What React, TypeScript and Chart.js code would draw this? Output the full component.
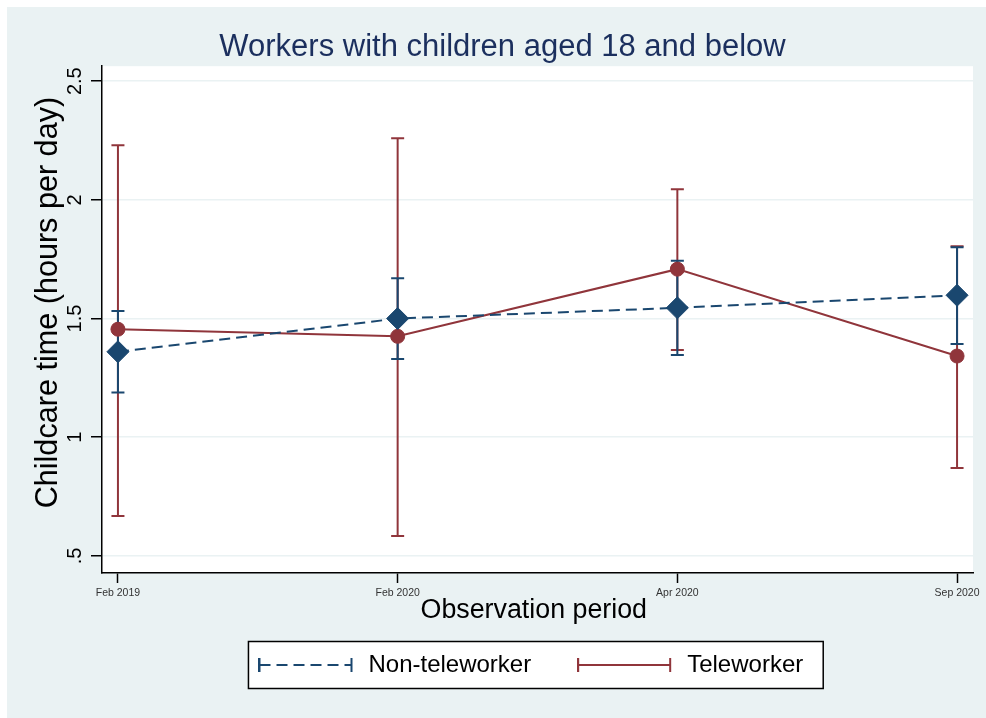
import React, { useEffect, useRef } from "react";
import { Chart, registerables } from "chart.js";

Chart.register(...registerables);

const periods = ["Feb 2019", "Feb 2020", "Apr 2020", "Sep 2020"];
const yTickValues = [0.5, 1, 1.5, 2, 2.5];
const yTickLabels = [".5", "1", "1.5", "2", "2.5"];

const nonTeleMean = [1.36, 1.5, 1.545, 1.598];
const nonTeleLow = [1.188, 1.33, 1.346, 1.393];
const nonTeleHigh = [1.532, 1.67, 1.743, 1.8];

const teleMean = [1.455, 1.425, 1.708, 1.342];
const teleLow = [0.668, 0.584, 1.367, 0.87];
const teleHigh = [2.23, 2.259, 2.045, 1.805];

const NAVY = "#1A476F";
const MAROON = "#90353B";
const BG = "#EAF2F3";
const TITLE = "#1b2f5e";
const FONT = '"Liberation Sans", Arial, sans-serif';
const LEGEND_TRAIL = "  ";

function meanData(vals: number[]) {
  return vals.map((v, i) => ({ x: i, y: v }));
}

function errorData(lo: number[], hi: number[]) {
  const out: { x: number; y: number | null }[] = [];
  lo.forEach((l, i) => {
    out.push({ x: i, y: l }, { x: i, y: hi[i] }, { x: i, y: null });
  });
  return out;
}

function makeSymbol(color: string, dashed: boolean) {
  const c = document.createElement("canvas");
  c.width = 98;
  c.height = 16;
  const g = c.getContext("2d")!;
  g.strokeStyle = color;
  g.lineWidth = 2;
  g.beginPath();
  g.moveTo(1, 1);
  g.lineTo(1, 15);
  g.moveTo(93, 1);
  g.lineTo(93, 15);
  g.stroke();
  g.setLineDash(dashed ? [11, 6] : []);
  g.beginPath();
  g.moveTo(1, 8);
  g.lineTo(93, 8);
  g.stroke();
  return c;
}

const backgroundPlugin = {
  id: "bgAndLegendBox",
  beforeDraw(chart: any) {
    const ctx = chart.ctx;
    const { left, right, top, bottom } = chart.chartArea;
    ctx.save();
    ctx.fillStyle = "#fff";
    ctx.fillRect(left, top, right - left, bottom - top);
    const hb = chart.legend && chart.legend.legendHitBoxes;
    if (hb && hb.length) {
      ctx.font = `24px ${FONT}`;
      const trail = ctx.measureText(LEGEND_TRAIL).width;
      const l = hb[0].left - 10;
      const last = hb[hb.length - 1];
      const r = last.left + last.width - trail + 20;
      const cy = hb[0].top + hb[0].height / 2;
      ctx.fillRect(l, cy - 23.5, r - l, 47);
      ctx.strokeStyle = "#000";
      ctx.lineWidth = 1.5;
      ctx.strokeRect(l, cy - 23.5, r - l, 47);
    }
    ctx.restore();
  },
};

export default function App() {
  const ref = useRef<HTMLCanvasElement | null>(null);

  useEffect(() => {
    if (!ref.current) return;
    const navySym = makeSymbol(NAVY, true);
    const redSym = makeSymbol(MAROON, false);
    const chart = new Chart(ref.current, {
      type: "line",
      data: {
        datasets: [
          {
            label: "Non-teleworker",
            data: meanData(nonTeleMean),
            borderColor: NAVY,
            backgroundColor: NAVY,
            borderWidth: 2,
            borderDash: [11, 6],
            pointStyle: "rectRot",
            pointRadius: 11,
            pointBorderWidth: 1,
            pointBorderColor: NAVY,
            pointBackgroundColor: NAVY,
            order: 0,
          },
          {
            label: "Teleworker",
            data: meanData(teleMean),
            borderColor: MAROON,
            backgroundColor: MAROON,
            borderWidth: 2,
            pointStyle: "circle",
            pointRadius: 7,
            pointBorderWidth: 1,
            pointBorderColor: MAROON,
            pointBackgroundColor: MAROON,
            order: 1,
          },
          {
            label: "ci-non",
            data: errorData(nonTeleLow, nonTeleHigh),
            borderColor: NAVY,
            borderWidth: 2,
            pointStyle: "line",
            pointRadius: 6.5,
            pointBorderWidth: 2,
            pointBorderColor: NAVY,
            order: 2,
          },
          {
            label: "ci-tele",
            data: errorData(teleLow, teleHigh),
            borderColor: MAROON,
            borderWidth: 2,
            pointStyle: "line",
            pointRadius: 6.5,
            pointBorderWidth: 2,
            pointBorderColor: MAROON,
            order: 3,
          },
        ] as any,
      },
      options: {
        responsive: false,
        animation: false,
        events: [],
        layout: { padding: { left: 25, right: 13, top: 0, bottom: 31 } },
        scales: {
          x: {
            type: "linear",
            min: -0.057,
            max: 3.057,
            afterBuildTicks: (s: any) => {
              s.ticks = periods.map((_, i) => ({ value: i }));
            },
            afterFit: (s: any) => {
              s.height = 34;
            },
            ticks: {
              callback: (v: any) => periods[v] ?? "",
              color: "#333",
              font: { size: 10.5, family: FONT },
              padding: 4,
              maxRotation: 0,
              minRotation: 0,
              autoSkip: false,
            },
            grid: {
              drawOnChartArea: false,
              tickLength: 10,
              tickColor: "#000",
              tickWidth: 1.5,
            },
            border: { color: "#000", width: 1.5 },
            title: {
              display: true,
              text: "Observation period ",
              color: "#000",
              font: { size: 26.8, family: FONT },
              padding: { top: 0, bottom: -20 },
            },
          },
          y: {
            type: "linear",
            min: 0.428,
            max: 2.563,
            afterBuildTicks: (s: any) => {
              s.ticks = yTickValues.map((v) => ({ value: v }));
            },
            afterFit: (s: any) => {
              s.width = 70;
            },
            ticks: {
              callback: (v: any) => {
                const i = yTickValues.indexOf(Number(v));
                return i >= 0 ? yTickLabels[i] : "";
              },
              color: "#000",
              font: { size: 20, family: FONT },
              minRotation: 90,
              maxRotation: 90,
              crossAlign: "center",
              padding: 2,
            },
            grid: {
              color: BG,
              lineWidth: 1.5,
              tickLength: 11,
              tickColor: "#000",
              tickWidth: 1.5,
            },
            border: { color: "#000", width: 1.5 },
            title: {
              display: true,
              text: "    Childcare time (hours per day)",
              color: "#000",
              font: { size: 30.6, family: FONT, lineHeight: 1.0 },
              padding: { top: 1, bottom: 0 },
            },
          },
        },
        plugins: {
          title: {
            display: true,
            text: "Workers with children aged 18 and below",
            color: TITLE,
            font: { size: 31, family: FONT, weight: "normal", lineHeight: 1.2 },
            padding: { top: 22, bottom: 0 },
          },
          legend: {
            position: "bottom",
            fullSize: false,
            labels: {
              usePointStyle: true,
              pointStyleWidth: 98,
              boxHeight: 16,
              padding: 46,
              color: "#000",
              font: { size: 24, family: FONT },
              generateLabels: () => [
                {
                  text: "Non-teleworker",
                  pointStyle: navySym,
                  fillStyle: NAVY,
                  strokeStyle: NAVY,
                  fontColor: "#000",
                  hidden: false,
                  datasetIndex: 0,
                  lineWidth: 0,
                },
                {
                  text: "Teleworker" + LEGEND_TRAIL,
                  pointStyle: redSym,
                  fillStyle: MAROON,
                  strokeStyle: MAROON,
                  fontColor: "#000",
                  hidden: false,
                  datasetIndex: 1,
                  lineWidth: 0,
                },
              ],
            },
          },
          tooltip: { enabled: false },
        },
      } as any,
      plugins: [backgroundPlugin],
    });
    return () => chart.destroy();
  }, []);

  return (
    <div style={{ position: "fixed", inset: 0, background: "#fff", overflow: "hidden" }}>
      <div
        style={{
          position: "absolute",
          left: 7,
          top: 7,
          width: 979,
          height: 711,
          background: BG,
        }}
      >
        <canvas ref={ref} width={979} height={711} style={{ display: "block" }} />
      </div>
    </div>
  );
}
